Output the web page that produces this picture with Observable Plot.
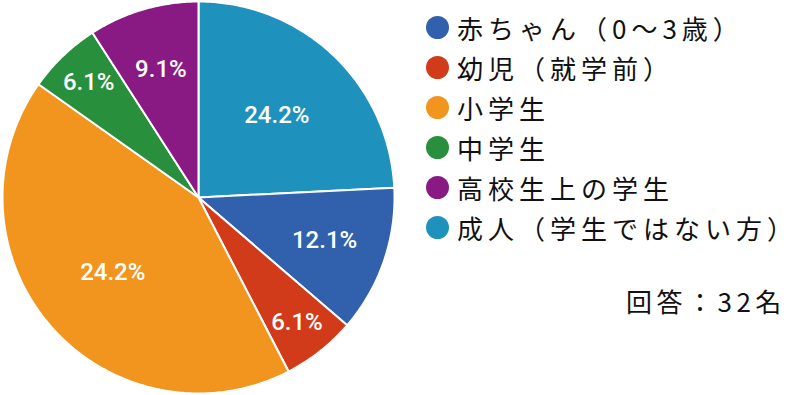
<!DOCTYPE html>
<html><head><meta charset="utf-8">
<script src="https://cdn.jsdelivr.net/npm/d3@7"></script>
<script src="https://cdn.jsdelivr.net/npm/@observablehq/plot@0.6"></script>
<style>
body{margin:0;background:#fff;}
#wrap{position:relative;width:798px;height:395px;}
#legend{position:absolute;left:426px;top:7px;font-family:"Noto Sans CJK JP";font-size:26px;color:#111;letter-spacing:5px;}
.item{height:40px;display:flex;align-items:center;}
.sw{width:23px;height:23px;border-radius:50%;margin-right:8px;flex:none;}
#note{position:absolute;left:626px;top:282px;font-family:"Noto Sans CJK JP";font-size:26px;color:#111;letter-spacing:4.5px;}
</style></head>
<body><div id="wrap"><div id="legend"></div><div id="note"></div></div>
<script>
const categories = ["成人（学生ではない方）","赤ちゃん（0～3歳）","幼児（就学前）","小学生","中学生","高校生上の学生"];
const values = [24.2, 12.1, 6.1, 42.4, 6.1, 9.1];
const labels = ["24.2%","12.1%","6.1%","24.2%","6.1%","9.1%"];
const colors = ["#1e91bc","#3161ad","#d13b1a","#f1951f","#28903c","#8a1a83"];
const legendOrder = ["赤ちゃん（0～3歳）","幼児（就学前）","小学生","中学生","高校生上の学生","成人（学生ではない方）"];
const noteText = "回答：32名";

const total = d3.sum(values);
const polys = [];
const labs = [];
let acc = 0;
values.forEach((v, i) => {
  const a0 = acc / total * 2 * Math.PI;
  acc += v;
  const a1 = acc / total * 2 * Math.PI;
  polys.push({k: categories[i], x: 0, y: 0});
  const n = Math.max(2, Math.ceil((a1 - a0) / 0.01));
  for (let j = 0; j <= n; j++) {
    const a = a0 + (a1 - a0) * j / n;
    polys.push({k: categories[i], x: Math.sin(a), y: Math.cos(a)});
  }
  const f = v / total;
  const r = f >= 0.2 ? 0.58 : f >= 0.09 ? 0.68 : 0.81;
  const am = (a0 + a1) / 2;
  labs.push({t: labels[i], x: r * Math.sin(am), y: r * Math.cos(am)});
});

const chart = Plot.plot({
  width: 798, height: 395, margin: 0,
  x: {domain: [-1, 1], range: [2, 394], axis: null},
  y: {domain: [-1, 1], range: [393, 1], axis: null},
  color: {domain: categories, range: colors},
  marks: [
    Plot.line(polys, {x: "x", y: "y", z: "k", fill: "k", stroke: "white", strokeWidth: 2, curve: "linear-closed"}),
    Plot.text(labs, {x: "x", y: "y", text: "t", fill: "white", fontSize: 24, fontWeight: 500, fontFamily: "Roboto"})
  ]
});
chart.style.position = "absolute";
chart.style.left = "0"; chart.style.top = "0";
document.getElementById("wrap").prepend(chart);

const lg = document.getElementById("legend");
legendOrder.forEach(c => {
  const d = document.createElement("div"); d.className = "item";
  const s = document.createElement("span"); s.className = "sw";
  s.style.background = colors[categories.indexOf(c)];
  const t = document.createElement("span"); t.textContent = c;
  d.append(s, t); lg.append(d);
});
document.getElementById("note").textContent = noteText;
</script></body></html>
